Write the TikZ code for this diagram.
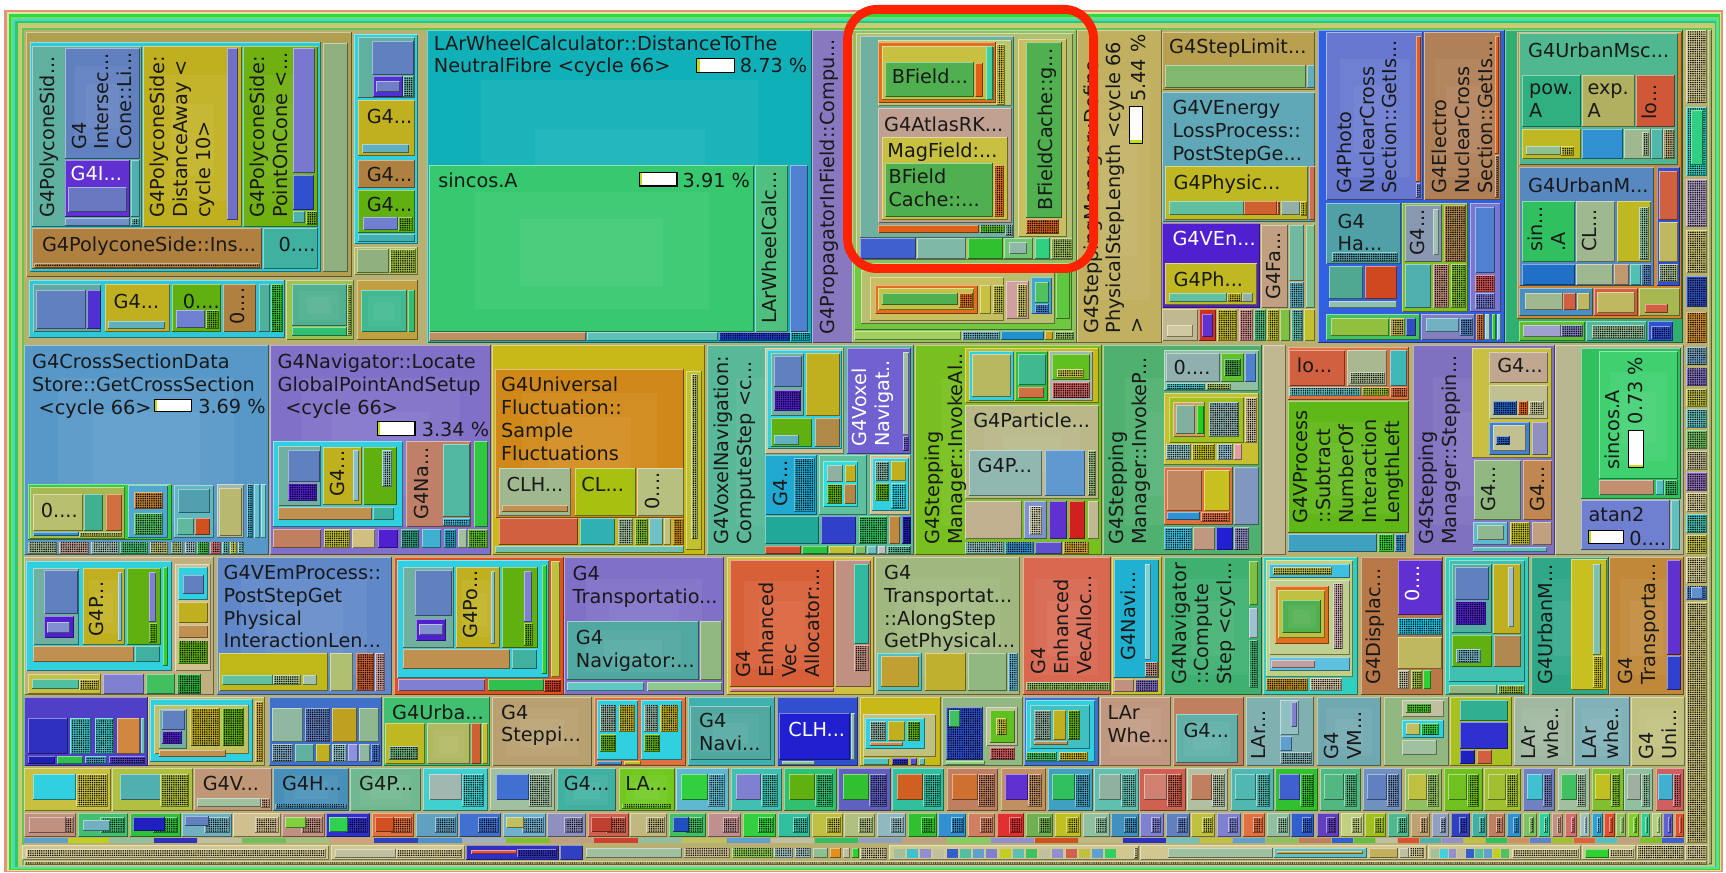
\documentclass[tikz,border=0pt]{standalone}
\usepackage{fontspec}
\setmainfont{DejaVu Sans}
\usetikzlibrary{patterns.meta}
\definecolor{ringred}{HTML}{FF2200}
\newcommand\lbfont{\fontsize{17.5}{20.8}\selectfont}
% treemap cell with bevelled border
\newcommand\tb[5]{%
  \definecolor{tbc}{HTML}{#5}%
  \fill[tbc] (#1,#2) rectangle (#3,#4);%
  \draw[tbc!55!white,line width=0.9pt] ({#1+0.45},{#4-0.45}) -- ({#1+0.45},{#2+0.45}) -- ({#3-0.45},{#2+0.45});%
  \draw[tbc!55!black,line width=0.9pt] ({#3-0.45},{#2+0.45}) -- ({#3-0.45},{#4-0.45}) -- ({#1+0.45},{#4-0.45});%
}
% cell with stepped lighter centre
\newcommand\ts[5]{%
  \tb{#1}{#2}{#3}{#4}{#5}%
  \fill[tbc!95!white] ({#1+(#3-#1)*0.14},{#2+(#4-#2)*0.16}) rectangle ({#3-(#3-#1)*0.14},{#4-(#4-#2)*0.14});%
  \fill[tbc!91!white] ({#1+(#3-#1)*0.28},{#2+(#4-#2)*0.32}) rectangle ({#3-(#3-#1)*0.28},{#4-(#4-#2)*0.28});%
}
% cell too small for detail: checkered
\newcommand\td[5]{%
  \tb{#1}{#2}{#3}{#4}{#5}%
  \fill[pattern={Dots[distance=2pt,radius=0.72pt]},pattern color=black] ({#1+1.2},{#2+1.2}) rectangle ({#3-1.2},{#4-1.2});%
}
% cost bar
\newcommand\pbar[4]{%
  \fill[white] (#1,#2) rectangle (#3,#4);%
  \fill[yellow!75!green] (#1,#2) rectangle ({#1+2.5},#4);%
  \draw[black,line width=1pt] (#1,#2) rectangle (#3,#4);%
}
\newcommand\pbarv[4]{%
  \fill[white] (#1,#2) rectangle (#3,#4);%
  \fill[yellow!75!green] (#1,{#4-2.5}) rectangle (#3,#4);%
  \draw[black,line width=1pt] (#1,#2) rectangle (#3,#4);%
}
\tikzset{
  lb/.style={inner sep=0pt,anchor=north west,align=left,font=\lbfont,text=black!90},
  lr/.style={lb,rotate=90},
  lw/.style={text=white},
  ring/.style={draw=ringred,line width=8pt,rounded corners=27pt}
}
\begin{document}
\begin{tikzpicture}[x=1pt,y=-1pt]
\useasboundingbox (0,0) rectangle (1568,793);
\fill[white] (0,0) rectangle (1568,793);
% nested outer frames
\foreach \i/\cc in {0/E8907A,1/D8E8A0,2/30D840,3/70E060,4/40D8E0,5/30C860,6/B8D070,7/D0C878,8/60C850,9/B8B070}{
  \definecolor{fc}{HTML}{\cc}
  \fill[fc] ({4+2*\i},{9+2*\i}) rectangle ({1565-1.2*\i},{792-0.8*\i});
}

% ---------------- row 1 ----------------
% polycone block
\tb{24}{29}{320}{252}{B0A050}
\tb{27}{38}{292}{247}{30C8D8}
\tb{29}{42}{129}{206}{60B0A0}
\ts{59}{44}{127}{144}{6080C0}
\tb{59}{145}{118}{197}{6030D0}
\tb{62}{170}{115}{193}{6878C0}
\tb{119}{145}{127}{197}{50B0B0}
\tb{59}{198}{118}{205}{7090C8}
\td{119}{198}{127}{205}{50B0B0}
\ts{130}{42}{220}{206}{C0B020}
\tb{206}{44}{216}{200}{7070C8}
\ts{221}{42}{289}{206}{70B010}
\tb{266}{44}{286}{157}{7878D0}
\tb{266}{159}{285}{191}{3050D0}
\tb{266}{192}{277}{203}{50B0B0}
\td{278}{192}{288}{204}{70B010}
\tb{29}{207}{238}{244}{B08040}
\td{31}{239}{236}{243}{B08040}
\tb{239}{207}{289}{244}{40B0A0}
\tb{293}{39}{316}{247}{90B080}
\node[lr] (r1) at (36,198) {G4PolyconeSid...};
\node[lr] (r2) at (65,136) {G4\\Intersec...\\Cone::Li...};
\node[lb,lw] (n17) at (64,151) {G4I...};
\node[lr] (r3) at (136,198) {G4PolyconeSide:\\DistanceAway <\\cycle 10>};
\node[lr] (r4) at (227,198) {G4PolyconeSide:\\PointOnCone <...};
\node[lb] (n18) at (38,215) {G4PolyconeSide::Ins...};
\node[lb] (n19) at (253,215) {0....};
% column right of polycone
\tb{322}{31}{380}{222}{30D0E0}
\tb{325}{34}{377}{89}{60B0A0}
\tb{338}{37}{376}{68}{6080C0}
\tb{339}{69}{366}{88}{5030D0}
\tb{342}{74}{363}{84}{7080C8}
\td{366}{69}{376}{88}{60B0A0}
\tb{325}{91}{377}{142}{C0B020}
\tb{329}{131}{372}{139}{60B0C0}
\tb{325}{145}{377}{171}{B08040}
\tb{325}{173}{377}{212}{60B010}
\tb{330}{197}{362}{209}{7080D0}
\td{362}{197}{375}{210}{60B010}
\tb{325}{213}{377}{220}{40B0B0}
\tb{322}{224}{380}{250}{B0C060}
\tb{324}{226}{353}{248}{90B080}
\td{354}{226}{378}{248}{A0C040}
\node[lb] (n20) at (333,99) {G4...};
\node[lb] (n21) at (333,152) {G4...};
\node[lb] (n22) at (333,179) {G4...};
% row below polycone
\tb{26}{254}{259}{307}{30C8D8}
\tb{30}{258}{92}{302}{60A8A0}
\tb{33}{263}{78}{299}{6080C0}
\tb{79}{263}{92}{299}{5030D0}
\tb{95}{258}{154}{302}{C0B020}
\tb{98}{292}{150}{299}{60B0C0}
\tb{156}{258}{201}{302}{60B010}
\tb{160}{282}{186}{298}{7080D0}
\td{187}{282}{199}{299}{60B010}
\tb{203}{258}{233}{302}{B08040}
\tb{235}{258}{245}{302}{50B0A0}
\td{246}{258}{257}{302}{30C030}
\tb{260}{254}{322}{309}{A0C050}
\ts{265}{258}{315}{296}{50B090}
\tb{265}{297}{315}{305}{30C070}
\td{315}{258}{320}{305}{A0C050}
\tb{324}{254}{380}{309}{C0A040}
\ts{328}{263}{370}{302}{40B890}
\tb{371}{263}{377}{302}{30C070}
\node[lb] (n23) at (103,267) {G4...};
\node[lb] (n24) at (166,267) {0....};
\node[lr] (r46) at (209,295) {0....};

% LArWheelCalculator block
\ts{388}{27}{738}{312}{10B0B8}
\ts{390}{150}{685}{302}{38C870}
\tb{686}{150}{716}{302}{50C080}
\tb{718}{150}{734}{302}{5080D0}
\tb{390}{302}{532}{310}{C09060}
\tb{533}{302}{652}{310}{60C0B8}
\td{653}{302}{718}{310}{2040D0}
\td{718}{302}{736}{310}{10B0B8}
\node[lb] (n1) at (394,32) {LArWheelCalculator::DistanceToThe\\NeutralFibre <cycle 66>};
\pbar{633}{53}{667}{66}
\node[lb] (p1) at (672,53) {8.73 \%};
\node[lb] (n2) at (398,157) {sincos.A};
\pbar{581}{157}{615}{169}
\node[lb] (p2) at (620,157) {3.91 \%};
\node[lr] (r5) at (692,294) {LArWheelCalc...};
% G4PropagatorInField
\tb{738}{27}{775}{312}{8878C0}
\node[lr] (r6) at (745,304) {G4PropagatorInField::Compu...};

% magnetic field cache block
\tb{774}{27}{978}{312}{90C060}
\tb{778}{30}{975}{236}{B0C070}
\tb{781}{33}{921}{216}{70B0A0}
\tb{798}{36}{919}{96}{B8C870}
\tb{798}{38}{905}{94}{E07020}
\tb{801}{42}{903}{91}{C8C040}
\tb{804}{56}{885}{88}{50B050}
\tb{886}{57}{893}{88}{E06018}
\tb{896}{42}{902}{91}{40D0A0}
\td{905}{40}{913}{95}{C8C040}
\tb{798}{98}{919}{203}{C0A090}
\tb{801}{124}{916}{200}{C8C040}
\tb{804}{148}{902}{197}{50B050}
\td{903}{150}{912}{197}{E07020}
\tb{798}{204}{889}{212}{E06018}
\td{890}{204}{913}{212}{60C030}
\td{913}{204}{920}{214}{70B0A0}
\tb{925}{35}{969}{215}{C8C060}
\tb{932}{38}{965}{198}{50B050}
\td{932}{199}{962}{213}{D06020}
\tb{781}{216}{832}{235}{4060D0}
\tb{833}{216}{878}{235}{80B8A8}
\tb{879}{216}{911}{235}{30C030}
\tb{912}{216}{938}{235}{70C870}
\tb{917}{220}{933}{231}{90B8A8}
\tb{940}{216}{954}{235}{30D080}
\td{955}{216}{975}{235}{A0C060}
\node[lb] (n3) at (810,62) {BField...};
\node[lb] (n4) at (803,106) {G4AtlasRK...};
\node[lb] (n5) at (806,130) {MagField:...};
\node[lb] (n6) at (807,153) {BField\\Cache::...};
\node[lr] (r7) at (943,191) {BFieldCache::g...};
% lower part of the field block
\tb{776}{239}{974}{300}{70C840}
\tb{782}{245}{958}{294}{B8C070}
\tb{790}{252}{912}{292}{C8C060}
\tb{795}{259}{888}{285}{E07020}
\tb{798}{262}{885}{282}{C8C040}
\tb{801}{266}{870}{277}{50B050}
\td{871}{266}{884}{280}{E07020}
\tb{890}{259}{900}{285}{C8C040}
\td{902}{259}{912}{285}{C0C040}
\tb{914}{255}{935}{290}{D0A0A0}
\td{924}{258}{933}{288}{C8C060}
\tb{937}{252}{956}{285}{40A8D0}
\tb{940}{256}{953}{275}{50C060}
\td{940}{276}{953}{285}{4080D0}
\tb{959}{245}{972}{290}{60C840}
\tb{776}{301}{873}{309}{A0D060}
\td{874}{301}{908}{309}{70B0C0}
\tb{909}{301}{948}{309}{2090D0}
\tb{949}{301}{957}{309}{D0A020}
\td{958}{301}{976}{309}{90C060}

% G4SteppingManager::DefinePhysicalStepLength
\ts{978}{27}{1056}{312}{C0B060}
\node[lr] (r8) at (984,303) {G4SteppingManager::Define\\PhysicalStepLength <cycle 66\\>};
\node[lr,anchor=north east] (r9) at (1027,31) {5.44 \%};
\pbarv{1026}{97}{1038}{130}

% step limiter / energy loss
\tb{1056}{29}{1195}{82}{B8A050}
\tb{1058}{59}{1186}{80}{80B870}
\tb{1187}{59}{1195}{80}{60B0C0}
\node[lb] (n7) at (1062,35) {G4StepLimit...};
\tb{1056}{84}{1195}{202}{60A8B8}
\tb{1058}{151}{1188}{200}{C0B820}
\tb{1062}{183}{1130}{195}{60C0A0}
\tb{1130}{183}{1160}{195}{D06030}
\td{1160}{183}{1163}{195}{D06030}
\tb{1164}{183}{1181}{195}{90B0A8}
\td{1181}{183}{1187}{196}{C0B820}
\tb{1189}{151}{1195}{200}{D07050}
\node[lb] (n8) at (1065,91) {G4VEnergy\\LossProcess::\\PostStepGe...};
\node[lb] (n9) at (1066,159) {G4Physic...};
\tb{1056}{203}{1145}{280}{5020D0}
\tb{1058}{239}{1142}{277}{C0B820}
\tb{1062}{266}{1115}{274}{60C0A0}
\td{1115}{266}{1128}{274}{C0B820}
\tb{1128}{266}{1138}{274}{90B0A8}
\node[lb,lw] (n10) at (1065,210) {G4VEn...};
\node[lb] (n11) at (1066,247) {G4Ph...};
\tb{1146}{204}{1170}{280}{C0A080}
\node[lr] (r10) at (1150,272) {G4Fa...};
\tb{1171}{204}{1185}{255}{70B8A0}
\tb{1186}{204}{1195}{280}{80C090}
\td{1171}{256}{1185}{280}{60B0C0}
\tb{1056}{281}{1088}{310}{C0B890}
\tb{1060}{295}{1084}{306}{D0C8A0}
\tb{1089}{281}{1105}{310}{D03020}
\tb{1092}{285}{1102}{306}{6030D0}
\td{1106}{281}{1124}{310}{C0B830}
\td{1126}{281}{1138}{310}{D09090}
\td{1139}{281}{1150}{310}{50C080}
\td{1151}{281}{1162}{310}{C0C030}
\tb{1163}{281}{1172}{310}{80C040}
\td{1173}{281}{1184}{310}{60C0B0}
\tb{1185}{281}{1195}{310}{C0C030}

% photo / electro nuclear block
\tb{1197}{27}{1367}{312}{3060E0}
\ts{1205}{29}{1293}{182}{6878D0}
\tb{1286}{33}{1291}{165}{E06020}
\td{1286}{166}{1291}{180}{6878D0}
\ts{1294}{29}{1364}{182}{B08058}
\tb{1358}{33}{1362}{140}{E06020}
\td{1358}{141}{1362}{180}{B08058}
\node[lr] (r11) at (1214,176) {G4Photo\\NuclearCross\\Section::GetIs...};
\node[lr] (r12) at (1301,176) {G4Electro\\NuclearCross\\Section::GetIs...};
\tb{1205}{184}{1273}{240}{50A0A8}
\td{1210}{229}{1270}{238}{50A0A8}
\node[lb] (n16) at (1215,194) {G4\\Ha...};
\tb{1207}{242}{1238}{272}{50A890}
\tb{1240}{242}{1269}{272}{D04820}
\tb{1207}{273}{1269}{280}{90C0B0}
\tb{1274}{184}{1334}{283}{80C020}
\tb{1276}{186}{1310}{238}{8898B0}
\tb{1302}{190}{1307}{232}{A0C0B0}
\td{1312}{186}{1332}{238}{B08850}
\tb{1276}{240}{1300}{280}{50B0B0}
\td{1302}{240}{1316}{280}{C09080}
\td{1318}{240}{1332}{280}{80C030}
\node[lr] (r13) at (1281,232) {G4...};
\tb{1335}{184}{1364}{283}{7878D0}
\tb{1340}{188}{1358}{248}{5080D0}
\td{1340}{250}{1358}{265}{D05050}
\td{1340}{266}{1358}{281}{7878D0}
\tb{1205}{285}{1290}{309}{40C060}
\tb{1209}{289}{1262}{305}{90C040}
\td{1263}{289}{1276}{305}{C0B050}
\tb{1277}{289}{1286}{305}{3050C0}
\tb{1291}{285}{1340}{309}{8080C0}
\tb{1295}{289}{1325}{302}{70B0C0}
\td{1326}{289}{1338}{305}{5080C0}
\td{1341}{285}{1348}{309}{D07030}
\tb{1349}{285}{1354}{309}{A0D0C0}
\tb{1355}{285}{1359}{309}{30D030}
\tb{1360}{285}{1364}{309}{90D0D0}

% multiple scattering block
\tb{1367}{27}{1529}{312}{30B070}
\tb{1378}{29}{1528}{290}{D08830}
\tb{1380}{30}{1524}{150}{50B890}
\tb{1383}{68}{1436}{115}{30B080}
\tb{1437}{68}{1485}{115}{B0B060}
\tb{1486}{68}{1522}{115}{D05838}
\tb{1383}{117}{1436}{144}{C0B820}
\tb{1386}{133}{1418}{141}{90C090}
\td{1418}{133}{1430}{142}{C0B820}
\tb{1437}{117}{1474}{144}{3090D0}
\tb{1475}{117}{1500}{144}{A0B890}
\td{1492}{120}{1498}{142}{A0B890}
\tb{1500}{117}{1511}{144}{50B8A8}
\td{1511}{117}{1522}{144}{C0B080}
\node[lb] (n12) at (1388,39) {G4UrbanMsc...};
\node[lb] (n13) at (1389,76) {pow.\\A};
\node[lb] (n14) at (1442,76) {exp.\\A};
\node[lr] (r14) at (1491,109) {lo...};
\tb{1380}{152}{1503}{260}{5888C0}
\tb{1383}{183}{1431}{238}{30C060}
\tb{1432}{183}{1467}{238}{A0B890}
\tb{1469}{183}{1500}{238}{C0B820}
\td{1489}{188}{1498}{236}{90C0A0}
\tb{1383}{240}{1431}{259}{2070C8}
\tb{1432}{240}{1465}{259}{A0B890}
\tb{1466}{240}{1480}{259}{C09870}
\tb{1481}{240}{1491}{259}{50C0B0}
\td{1491}{240}{1500}{259}{5888C0}
\node[lb] (n15) at (1388,161) {G4UrbanM...};
\node[lr] (r15) at (1388,229) {sin...\\.A};
\node[lr] (r16) at (1437,229) {CL...};
\tb{1505}{152}{1526}{260}{3050D0}
\tb{1507}{155}{1524}{200}{D06040}
\tb{1507}{202}{1524}{238}{C0B860}
\td{1507}{240}{1524}{256}{A0B890}
\tb{1380}{262}{1447}{287}{4890C0}
\tb{1385}{266}{1420}{282}{A0B890}
\tb{1420}{266}{1432}{282}{D06040}
\tb{1433}{266}{1444}{282}{C0B860}
\tb{1448}{262}{1488}{287}{D06040}
\tb{1451}{265}{1485}{284}{C0B860}
\tb{1489}{262}{1526}{287}{A8B850}
\tb{1494}{276}{1515}{284}{D06040}
\tb{1380}{292}{1440}{310}{60C030}
\tb{1384}{295}{1418}{306}{A0A0D0}
\td{1418}{295}{1438}{306}{8080C0}
\tb{1441}{292}{1496}{310}{50B8A0}
\td{1446}{295}{1494}{308}{90B890}
\tb{1497}{292}{1520}{310}{3050D0}
\td{1500}{296}{1518}{308}{3050D0}

% right-hand column
\foreach \ya/\yb/\cc in {27/94/D0C890,97/160/30D0C0,163/206/B0A0C0,209/248/C8C070,251/279/3050C0,283/312/D09030,315/332/70A0C0,334/351/8070C0,353/370/C0C040,372/389/60C0C0,391/408/70C060,410/427/C0B890,429/446/9070C0,448/465/D0C890,467/484/40C0B0,486/503/C0C040,506/530/D0C890,532/545/5080D0,547/766/C8C078}{
  \td{1532}{\ya}{1551}{\yb}{\cc}
}
\tb{1536}{100}{1547}{150}{30D080}
\tb{1536}{533}{1547}{544}{6090D0}
\tb{1552}{27}{1555}{785}{A0B060}

% ---------------- row 2 ----------------
\ts{22}{313}{244}{504}{5898C8}
\tb{25}{440}{156}{491}{30D040}
\tb{27}{442}{114}{490}{A8B850}
\tb{30}{449}{75}{482}{B8C070}
\tb{76}{449}{94}{482}{40B090}
\tb{96}{449}{111}{482}{D07040}
\tb{30}{483}{72}{487}{3090D0}
\td{72}{483}{111}{488}{A8B850}
\tb{116}{441}{153}{489}{50A8D0}
\td{122}{447}{148}{462}{C08030}
\td{122}{466}{148}{486}{50C060}
\tb{158}{441}{194}{489}{60B8C0}
\tb{162}{444}{191}{466}{50A0B0}
\tb{161}{471}{176}{486}{60B8A0}
\tb{177}{471}{191}{486}{D05020}
\tb{197}{440}{222}{489}{A0B8B0}
\tb{199}{443}{220}{487}{B8B870}
\td{224}{440}{230}{489}{40A8C0}
\tb{231}{440}{236}{489}{60C0D0}
\tb{237}{440}{242}{489}{70D0D0}
\foreach \xa/\xb/\cc in {25/52/A0B890,54/81/C0A090,83/108/A0C0B0,109/134/40C070,136/153/B8C070,155/166/A0C080,168/178/A0C0C0,179/190/40C040,191/201/D07070,202/208/60C0B0,209/215/C0C040,216/222/70C0C0}{
  \td{\xa}{492}{\xb}{503}{\cc}
}
\node[lb] (n26) at (29,321) {G4CrossSectionData\\Store::GetCrossSection\\\hspace*{6pt}<cycle 66>};
\pbar{140}{363}{174}{374}
\node[lb] (p3) at (180,362) {3.69 \%};
\node[lb] (n27) at (37,457) {0....};
% locate global point
\ts{245}{313}{446}{504}{8070C8}
\tb{248}{401}{366}{479}{30D0E0}
\tb{253}{405}{292}{460}{70B0A0}
\tb{262}{409}{291}{438}{6080C0}
\td{262}{439}{288}{455}{5020D0}
\tb{293}{406}{329}{459}{C0B020}
\tb{321}{409}{326}{455}{80C0D0}
\tb{330}{406}{361}{459}{60B010}
\td{347}{409}{356}{442}{90C0C0}
\tb{253}{461}{338}{472}{C09050}
\tb{339}{461}{358}{472}{40B0A0}
\tb{369}{401}{428}{479}{C08068}
\tb{402}{403}{427}{470}{50B8A0}
\td{402}{471}{427}{478}{40B0D0}
\tb{431}{401}{443}{479}{30C840}
\tb{248}{481}{292}{498}{C08060}
\td{294}{481}{318}{498}{C0C030}
\tb{320}{481}{341}{498}{D0C080}
\tb{343}{481}{362}{498}{5020D0}
\td{364}{481}{381}{498}{30A080}
\tb{383}{481}{401}{498}{40B0D0}
\td{403}{481}{414}{498}{20A0C0}
\tb{416}{481}{424}{498}{A0C0A0}
\td{425}{481}{443}{498}{60C030}
\node[lb] (n28) at (252,321) {G4Navigator::Locate\\GlobalPointAndSetup\\\hspace*{7pt}<cycle 66>};
\pbar{343}{383}{377}{396}
\node[lb] (p4) at (383,383) {3.34 \%};
\node[lr] (r18) at (300,451) {G4...};
\node[lr] (r17) at (376,472) {G4Na...};
% universal fluctuation
\tb{447}{313}{640}{504}{C8B818}
\ts{450}{335}{621}{471}{D08818}
\tb{453}{425}{519}{469}{A0B890}
\tb{456}{459}{516}{465}{C09050}
\tb{522}{425}{578}{469}{A8C010}
\tb{579}{425}{621}{469}{B8C080}
\tb{453}{471}{525}{495}{D06040}
\tb{527}{471}{559}{495}{30B0B0}
\td{561}{471}{575}{495}{A0C0A0}
\td{577}{471}{589}{495}{80C030}
\tb{590}{471}{602}{495}{70C0C8}
\tb{603}{471}{610}{495}{C0C080}
\td{611}{471}{621}{495}{C08818}
\tb{623}{337}{638}{500}{C0C030}
\td{628}{340}{634}{490}{B0C060}
\tb{450}{496}{621}{502}{70C0B0}
\node[lb] (n29) at (455,342) {G4Universal\\Fluctuation::\\Sample\\Fluctuations};
\node[lb] (n30) at (460,433) {CLH...};
\node[lb] (n31) at (528,433) {CL...};
\node[lr] (r19) at (586,463) {0....};
% voxel navigation
\ts{642}{313}{830}{504}{58B898}
\tb{695}{316}{767}{412}{D0C090}
\tb{697}{318}{765}{408}{30D0E0}
\tb{700}{321}{730}{378}{70B0A0}
\tb{703}{323}{729}{352}{6080C0}
\td{703}{354}{728}{373}{5020D0}
\tb{732}{321}{763}{378}{C0B020}
\tb{700}{380}{738}{406}{60B010}
\tb{703}{395}{726}{404}{60B0C0}
\tb{740}{380}{763}{406}{B08848}
\tb{769}{316}{828}{412}{7060D0}
\tb{820}{320}{826}{395}{A0C0A0}
\td{820}{396}{826}{410}{7060D0}
\tb{695}{413}{742}{468}{20A8D0}
\td{721}{416}{740}{465}{20A8D0}
\tb{744}{413}{788}{468}{60C0A0}
\tb{748}{419}{779}{461}{30E0E0}
\tb{751}{422}{766}{438}{90B0A0}
\tb{768}{422}{778}{438}{C0B020}
\td{751}{440}{765}{458}{60B010}
\tb{767}{440}{778}{458}{B08848}
\tb{790}{413}{828}{468}{D0C090}
\tb{792}{416}{826}{464}{30D0E0}
\td{795}{419}{808}{437}{80B0A0}
\tb{809}{419}{823}{437}{C0B020}
\td{795}{439}{808}{455}{60B010}
\td{809}{439}{823}{462}{30D0E0}
\tb{695}{469}{744}{494}{20A898}
\tb{746}{469}{778}{494}{3040C8}
\td{780}{469}{806}{494}{30C060}
\tb{808}{469}{818}{494}{C08840}
\td{819}{469}{828}{494}{2020C0}
\foreach \xa/\xb/\cc in {695/728/D05030,729/752/30C040,753/776/C0C030,777/787/80C060,788/797/70C0C0,798/805/C0C0C0}{
  \tb{\xa}{496}{\xb}{503}{\cc}
}
\td{806}{496}{828}{503}{58B898}
\node[lr] (r20) at (648,495) {G4VoxelNavigation:\\ComputeStep <c...};
\node[lr,lw] (r21) at (774,406) {G4Voxel\\Navigat..};
\node[lr] (r22) at (702,460) {G4...};
% InvokeAlongStep
\ts{831}{313}{1001}{504}{78C020}
\tb{877}{316}{998}{366}{C8B818}
\tb{880}{319}{921}{364}{30D0E0}
\tb{883}{322}{918}{361}{B8B860}
\tb{922}{319}{952}{364}{30C040}
\tb{925}{322}{950}{350}{40B890}
\tb{925}{352}{948}{362}{D07040}
\tb{953}{319}{993}{364}{A0B8B0}
\tb{956}{322}{990}{345}{60C020}
\td{960}{335}{985}{343}{C0C040}
\td{956}{347}{990}{362}{D06060}
\ts{877}{368}{998}{453}{B8B888}
\tb{880}{409}{947}{451}{90B8B0}
\tb{949}{409}{986}{451}{6098D0}
\td{988}{409}{996}{451}{A0C080}
\tb{877}{455}{928}{490}{C0B090}
\tb{930}{455}{951}{490}{8090D0}
\td{935}{460}{947}{486}{D0D0B0}
\tb{953}{455}{969}{490}{6030D0}
\tb{971}{455}{986}{490}{D02020}
\tb{988}{455}{998}{490}{C0B890}
\td{877}{492}{912}{503}{90C0C0}
\td{913}{492}{939}{503}{3090D0}
\tb{940}{492}{965}{503}{6050D0}
\td{966}{492}{989}{503}{D0A030}
\node[lr] (r23) at (840,495) {G4Stepping\\Manager::InvokeAl..};
\node[lb] (n32) at (884,375) {G4Particle...};
\node[lb] (n33) at (888,416) {G4P...};
% InvokePostStep
\ts{1002}{313}{1146}{504}{50B070}
\tb{1057}{318}{1144}{355}{90C0A0}
\tb{1059}{321}{1108}{347}{90B0B0}
\tb{1109}{321}{1130}{347}{60C030}
\td{1112}{326}{1127}{342}{40A040}
\tb{1131}{321}{1141}{347}{5080D0}
\td{1059}{348}{1095}{354}{40C0C0}
\td{1096}{348}{1118}{354}{A0C060}
\tb{1057}{357}{1144}{422}{C8C030}
\tb{1062}{361}{1130}{402}{A0C020}
\tb{1066}{365}{1095}{397}{D0A060}
\tb{1068}{368}{1086}{394}{80B0A0}
\tb{1087}{368}{1094}{394}{20D020}
\td{1098}{365}{1126}{397}{90B0B0}
\td{1131}{361}{1142}{402}{D0C0A0}
\td{1059}{403}{1082}{418}{90C0C0}
\td{1083}{403}{1104}{418}{C0C020}
\td{1106}{403}{1120}{418}{90C0D0}
\tb{1121}{403}{1128}{418}{E0A0A0}
\tb{1057}{424}{1120}{477}{E07040}
\tb{1060}{427}{1092}{464}{C08860}
\tb{1094}{427}{1117}{464}{C8C020}
\tb{1060}{465}{1090}{472}{3090D0}
\td{1091}{465}{1117}{474}{E07040}
\tb{1121}{424}{1144}{477}{8098C0}
\td{1057}{479}{1083}{500}{40C0E0}
\tb{1084}{479}{1104}{500}{C09880}
\tb{1105}{479}{1120}{500}{2020D0}
\td{1121}{479}{1135}{500}{9090C0}
\node[lr] (r24) at (1007,495) {G4Stepping\\Manager::InvokeP...};
\node[lb] (n34) at (1066,327) {0....};
% khaki separator
\tb{1147}{313}{1168}{504}{C0B890}
% interaction length
\tb{1170}{315}{1280}{363}{E07040}
\tb{1171}{318}{1222}{351}{D06040}
\tb{1224}{318}{1260}{351}{A8B890}
\td{1226}{338}{1258}{349}{A8B890}
\tb{1263}{318}{1278}{351}{40B8B8}
\td{1171}{352}{1236}{360}{60C0C0}
\td{1237}{352}{1262}{360}{A0C030}
\td{1263}{352}{1278}{361}{E07040}
\node[lb] (n35) at (1178,325) {lo...};
\ts{1170}{364}{1280}{484}{60B818}
\node[lr] (r25) at (1175,476) {G4VProcess\\::Subtract\\NumberOf\\Interaction\\LengthLeft};
\tb{1170}{485}{1251}{501}{40A0C0}
\td{1252}{485}{1266}{501}{30D030}
\td{1267}{485}{1277}{501}{4090D0}
% stepping
\ts{1284}{313}{1413}{504}{8070C0}
\tb{1337}{316}{1410}{416}{C8C040}
\tb{1353}{320}{1406}{348}{C0A890}
\tb{1353}{350}{1406}{381}{C0C090}
\td{1356}{364}{1378}{377}{2060C0}
\td{1379}{364}{1388}{377}{E06010}
\td{1389}{364}{1403}{377}{C0C090}
\tb{1353}{383}{1390}{413}{4080D0}
\tb{1356}{386}{1386}{410}{C0C090}
\td{1359}{396}{1372}{404}{2060C0}
\tb{1392}{383}{1406}{413}{9090C0}
\tb{1339}{418}{1382}{472}{90B880}
\tb{1384}{418}{1410}{472}{C08850}
\tb{1338}{474}{1370}{495}{60B8D0}
\tb{1342}{477}{1366}{491}{90B890}
\td{1372}{474}{1390}{495}{C0C020}
\tb{1392}{474}{1410}{495}{C0A080}
\tb{1338}{497}{1405}{501}{60C0C0}
\node[lr] (r26) at (1289,495) {G4Stepping\\Manager::Steppin...};
\node[lb] (n36) at (1360,325) {G4...};
\node[lr] (r27) at (1345,465) {G4...};
\node[lr] (r28) at (1390,465) {G4...};
% sincos / atan2
\tb{1413}{313}{1530}{504}{B8B890}
\tb{1436}{316}{1527}{453}{30C060}
\ts{1453}{319}{1524}{435}{40D070}
\tb{1453}{436}{1503}{450}{C09070}
\tb{1504}{436}{1512}{450}{50C0C0}
\td{1512}{436}{1524}{450}{30C060}
\node[lr] (r29) at (1458,427) {sincos.A};
\pbarv{1479}{391}{1493}{425}
\node[lr,anchor=north east] (r30) at (1479,324) {0.73 \%};
\tb{1436}{454}{1517}{500}{7080D0}
\tb{1518}{454}{1526}{500}{60C0C0}
\node[lb] (n37) at (1443,461) {atan2};
\pbar{1443}{482}{1475}{494}
\node[lb] (p5) at (1480,482) {0....};

% ---------------- row 3 ----------------
\tb{22}{506}{194}{631}{C0B080}
\tb{24}{510}{156}{610}{30D0E0}
\tb{30}{516}{72}{586}{70B0A0}
\tb{40}{518}{71}{558}{6080C0}
\tb{40}{560}{67}{580}{5020D0}
\tb{43}{565}{64}{575}{8090D0}
\ts{75}{516}{114}{586}{C0B020}
\tb{107}{520}{111}{582}{80C0D0}
\tb{115}{516}{146}{586}{60B010}
\tb{135}{520}{142}{565}{8080D0}
\td{135}{566}{143}{584}{60B010}
\tb{30}{587}{122}{601}{C09050}
\tb{123}{587}{145}{601}{40B0A0}
\tb{148}{515}{153}{605}{30D030}
\tb{159}{512}{192}{610}{D0C090}
\tb{162}{515}{189}{545}{30D0E0}
\tb{166}{522}{185}{540}{6080C0}
\tb{162}{547}{189}{566}{C0B020}
\tb{162}{568}{189}{580}{C09050}
\td{162}{582}{189}{603}{60B010}
\tb{25}{612}{92}{630}{C8C040}
\tb{29}{617}{72}{626}{50C0A0}
\td{72}{617}{90}{627}{C8C040}
\tb{94}{612}{131}{630}{8080D0}
\tb{133}{612}{159}{630}{40C060}
\td{161}{612}{183}{630}{30B040}
\node[lr] (r31) at (81,578) {G4P...};
% em process
\ts{197}{506}{356}{631}{6088C8}
\tb{199}{593}{298}{628}{C0B818}
\tb{202}{613}{248}{622}{60C0A0}
\td{248}{613}{273}{622}{A0C090}
\tb{275}{613}{288}{622}{A0C0B0}
\tb{300}{593}{321}{628}{B0C070}
\td{323}{593}{340}{628}{D06030}
\td{341}{593}{350}{628}{D0A0A0}
\node[lb] (n38) at (203,513) {G4VEmProcess::\\PostStepGet\\Physical\\InteractionLen...};
% polycone copy
\tb{358}{506}{512}{631}{E05020}
\tb{361}{509}{499}{616}{30D0E0}
\tb{366}{515}{412}{589}{70B0A0}
\tb{377}{518}{411}{560}{6080C0}
\tb{378}{562}{405}{582}{5020D0}
\tb{381}{567}{402}{577}{8090D0}
\ts{414}{515}{454}{589}{C0B020}
\tb{446}{519}{450}{585}{80C0D0}
\tb{456}{515}{489}{589}{60B010}
\tb{476}{519}{483}{565}{8080D0}
\td{476}{566}{484}{587}{60B010}
\tb{366}{590}{463}{608}{C09050}
\tb{465}{590}{488}{608}{40B0A0}
\tb{492}{513}{497}{612}{30D030}
\tb{501}{510}{509}{615}{C0C040}
\tb{362}{617}{441}{628}{8080D0}
\tb{443}{617}{494}{628}{30C050}
\td{494}{617}{510}{629}{D04020}
\node[lr] (r32) at (421,580) {G4Po...};
% transportation
\ts{512}{506}{658}{631}{8070C8}
\ts{515}{564}{635}{618}{50A8A0}
\tb{636}{564}{656}{618}{90B880}
\tb{515}{620}{585}{628}{60C8C0}
\tb{588}{620}{656}{628}{90C890}
\node[lb] (n39) at (520,514) {G4\\Transportatio...};
\node[lb] (n40) at (523,572) {G4\\Navigator:...};
% enhanced vector allocator
\tb{660}{506}{794}{631}{D0C040}
\ts{663}{509}{758}{624}{D86038}
\tb{759}{509}{791}{624}{C09080}
\tb{776}{512}{789}{585}{30B8A0}
\td{776}{586}{789}{610}{C09080}
\tb{663}{625}{758}{629}{D08080}
\node[lr] (r33) at (669,616) {G4\\Enhanced\\Vec\\Allocator:...};
% along step
\ts{795}{506}{927}{631}{A0B880}
\tb{797}{593}{838}{628}{50C0C0}
\tb{800}{596}{835}{624}{C0A030}
\tb{840}{593}{878}{628}{C0B030}
\tb{879}{593}{915}{628}{90B880}
\td{916}{593}{925}{628}{60B0D0}
\node[lb] (n41) at (803,513) {G4\\Transportat...\\::AlongStep\\GetPhysical...};
\ts{929}{506}{1009}{631}{D86850}
\td{932}{620}{1008}{628}{90C060}
\node[lr] (r34) at (937,613) {G4\\Enhanced\\VecAlloc...};
\tb{1010}{506}{1056}{631}{C8C030}
\tb{1012}{508}{1053}{616}{20B0D0}
\tb{1040}{512}{1046}{600}{80D0D0}
\td{1040}{601}{1052}{615}{C09080}
\tb{1012}{617}{1030}{629}{C09080}
\td{1031}{617}{1052}{629}{8070C0}
\node[lr] (r35) at (1018,600) {G4Navi...};
\ts{1057}{506}{1146}{631}{40B070}
\tb{1135}{510}{1143}{550}{80C040}
\tb{1135}{552}{1143}{580}{A0C0D0}
\td{1135}{581}{1143}{625}{40B070}
\node[lr] (r36) at (1064,622) {G4Navigator\\::Compute\\Step <cycl...};
\tb{1147}{506}{1234}{631}{30D0C0}
\tb{1150}{509}{1229}{615}{C0D080}
\tb{1153}{512}{1226}{525}{40C0E0}
\td{1156}{515}{1210}{522}{C0C040}
\tb{1153}{527}{1226}{595}{C0D090}
\tb{1158}{532}{1207}{585}{E07020}
\tb{1161}{536}{1204}{580}{C0C040}
\ts{1165}{545}{1200}{575}{50B050}
\td{1211}{530}{1220}{590}{D0B0B0}
\tb{1153}{597}{1226}{610}{60C0E0}
\tb{1155}{600}{1195}{607}{C0A0A0}
\td{1150}{616}{1188}{628}{C09020}
\td{1190}{616}{1219}{628}{D0C0A0}
\tb{1236}{506}{1311}{631}{B87848}
\tb{1270}{509}{1310}{559}{6030D0}
\td{1270}{561}{1310}{577}{20C0E0}
\tb{1270}{579}{1310}{608}{C0B860}
\td{1270}{609}{1280}{626}{C0C0A0}
\td{1282}{609}{1292}{626}{A0C040}
\tb{1293}{609}{1300}{626}{30D030}
\node[lr] (r37) at (1241,622) {G4Displac...};
\node[lr,lw] (r38) at (1276,547) {0....};
\tb{1313}{506}{1389}{631}{30D0C0}
\tb{1316}{509}{1385}{620}{40C0B0}
\tb{1319}{512}{1355}{575}{50B0A0}
\tb{1322}{515}{1353}{545}{6080C0}
\td{1322}{546}{1350}{568}{5020D0}
\tb{1356}{512}{1382}{576}{C0B020}
\tb{1370}{515}{1375}{570}{A0C0C0}
\tb{1319}{577}{1355}{606}{60B010}
\td{1323}{590}{1345}{602}{70B0C0}
\tb{1357}{577}{1382}{606}{B08850}
\tb{1316}{622}{1360}{630}{90B880}
\td{1361}{622}{1385}{630}{A0C040}
\ts{1391}{506}{1462}{631}{30A888}
\tb{1427}{508}{1460}{627}{C8C020}
\tb{1447}{512}{1454}{595}{80C0B0}
\td{1447}{596}{1456}{625}{C8C020}
\node[lr] (r39) at (1397,622) {G4UrbanM...};
\ts{1462}{506}{1530}{631}{C08838}
\tb{1514}{509}{1527}{595}{6030D0}
\tb{1514}{596}{1527}{627}{3040D0}
\node[lr] (r40) at (1470,622) {G4\\Transporta...};

% ---------------- row 4 ----------------
\tb{22}{633}{134}{696}{5040C8}
\tb{25}{652}{62}{685}{3030C0}
\td{64}{652}{83}{685}{40C0C0}
\td{86}{652}{104}{685}{40C0C0}
\tb{106}{652}{127}{685}{D08840}
\tb{128}{652}{132}{685}{60C0B0}
\tb{25}{687}{50}{694}{2020B0}
\tb{52}{687}{75}{694}{30C050}
\td{77}{687}{97}{694}{40A0C0}
\td{99}{687}{132}{694}{5040C8}
\tb{134}{633}{241}{696}{C0B860}
\tb{136}{635}{230}{692}{30D0E0}
\tb{140}{640}{226}{685}{C0C060}
\tb{144}{644}{170}{680}{70B0A0}
\tb{147}{645}{168}{663}{6080C0}
\td{147}{664}{165}{676}{5020D0}
\td{173}{643}{200}{678}{C0B020}
\td{202}{643}{222}{678}{60B010}
\tb{144}{681}{205}{688}{C09050}
\td{232}{637}{239}{692}{D0B040}
\tb{244}{633}{347}{696}{4070C8}
\tb{247}{643}{275}{674}{90B8A0}
\td{277}{643}{300}{674}{6080C0}
\tb{302}{643}{324}{674}{C0A020}
\tb{326}{643}{344}{674}{90B890}
\td{247}{676}{266}{692}{80A8C0}
\tb{268}{676}{285}{692}{60B0A0}
\tb{287}{676}{300}{692}{C0B020}
\td{302}{676}{315}{692}{90C0C0}
\tb{316}{676}{325}{692}{9090E0}
\tb{326}{676}{336}{692}{90B8A0}
\td{337}{676}{345}{692}{4070C8}
\tb{348}{633}{445}{696}{40C070}
\tb{350}{657}{386}{694}{C0B820}
\td{353}{678}{380}{690}{70B080}
\ts{388}{657}{427}{694}{B0B860}
\tb{428}{657}{437}{694}{D06030}
\tb{438}{657}{443}{694}{C0C030}
\node[lb] (n42) at (356,640) {G4Urba...};
\ts{447}{633}{538}{696}{B8A070}
\node[lb] (n43) at (455,640) {G4\\Steppi...};
\tb{540}{633}{623}{696}{E07040}
\tb{542}{636}{580}{690}{30D0E0}
\td{545}{640}{560}{665}{90B0A0}
\td{562}{640}{577}{665}{C0B020}
\td{545}{667}{560}{683}{60B010}
\tb{582}{636}{620}{690}{30D0E0}
\td{585}{640}{598}{665}{90B0A0}
\td{600}{640}{616}{665}{C0B020}
\td{585}{667}{600}{683}{60B010}
\tb{542}{691}{565}{695}{3090D0}
\tb{567}{691}{582}{695}{C0C020}
\tb{625}{633}{704}{696}{40B0B0}
\ts{627}{641}{700}{690}{50A8A0}
\node[lb] (n44) at (635,648) {G4\\Navi...};
\tb{706}{633}{779}{696}{3050D0}
\tb{708}{648}{772}{690}{2020D0}
\tb{773}{648}{777}{690}{90C0A0}
\tb{710}{691}{740}{695}{90C090}
\node[lb,lw] (n45) at (716,656) {CLH...};
\tb{781}{633}{855}{696}{C8B818}
\tb{784}{649}{850}{688}{C0C080}
\tb{786}{652}{840}{680}{30D0E0}
\td{790}{655}{805}{673}{90B0A0}
\tb{807}{655}{822}{673}{C0B020}
\td{824}{655}{836}{673}{60B010}
\tb{790}{674}{820}{678}{C09050}
\tb{784}{689}{808}{695}{50C0C0}
\td{810}{689}{825}{695}{3030C0}
\tb{827}{689}{833}{695}{5050D0}
\tb{835}{689}{840}{695}{60C0C0}
\tb{856}{633}{929}{696}{90B880}
\td{859}{642}{893}{690}{3050D0}
\tb{862}{645}{872}{660}{40C060}
\tb{896}{642}{925}{678}{C0C0A0}
\tb{899}{645}{922}{675}{60C020}
\td{905}{652}{915}{668}{C0C030}
\td{899}{679}{922}{690}{D06060}
\tb{859}{691}{895}{695}{90D080}
\tb{930}{633}{998}{696}{4070D0}
\tb{932}{636}{995}{692}{30D0E0}
\tb{936}{640}{990}{680}{40C0C0}
\td{939}{645}{955}{672}{90B0A0}
\tb{957}{645}{968}{672}{C0B020}
\td{970}{645}{981}{672}{60B010}
\tb{939}{673}{970}{677}{C09050}
\td{932}{683}{960}{691}{40C060}
\td{962}{683}{988}{691}{C0B020}
\ts{999}{633}{1064}{696}{C09880}
\node[lb] (n46) at (1006,641) {LAr\\Whe...};
\tb{1066}{633}{1130}{696}{C08060}
\ts{1068}{649}{1125}{693}{60B0A8}
\node[lb] (n47) at (1075,657) {G4...};
\tb{1132}{633}{1194}{696}{80B0B0}
\tb{1163}{636}{1180}{668}{90C0C0}
\tb{1173}{638}{1178}{660}{8080D0}
\tb{1163}{669}{1174}{682}{60A0D0}
\td{1163}{683}{1192}{694}{80B0B0}
\node[lr] (r41) at (1137,690) {LAr...};
\ts{1196}{633}{1255}{696}{70A8B0}
\node[lr] (r42) at (1203,690) {G4\\VM...};
\tb{1257}{633}{1316}{696}{90B880}
\tb{1274}{636}{1312}{651}{C0C0A0}
\td{1277}{639}{1300}{648}{50C030}
\tb{1274}{654}{1312}{670}{30D0E0}
\tb{1277}{657}{1290}{668}{C0C060}
\td{1291}{657}{1307}{668}{30D040}
\tb{1274}{672}{1305}{686}{A0C0A0}
\tb{1317}{633}{1374}{696}{A8C020}
\tb{1326}{636}{1370}{655}{30B090}
\tb{1326}{656}{1370}{680}{3030D0}
\tb{1326}{681}{1340}{694}{2020C0}
\tb{1342}{681}{1355}{694}{D06040}
\ts{1375}{633}{1429}{696}{A0B8A0}
\node[lr] (r43) at (1382,690) {LAr\\whe..};
\ts{1430}{633}{1481}{696}{80B0B8}
\node[lr] (r44) at (1437,690) {LAr\\whe..};
\ts{1482}{633}{1531}{696}{C0C080}
\node[lr] (r45) at (1489,690) {G4\\Uni...};

% ---------------- row 5 ----------------
\foreach \xa/\xb/\cc/\ci in {22/101/C8C040/30D0E0,102/175/B0C040/50B0B0,384/443/40D0D0/A0B8B0,445/504/A0C0A0/4070D0,614/662/60B8D0/30D040,664/710/40C0B0/8080D0,712/760/30C070/60B010,761/809/6060C0/30C030,810/858/30C0A0/D06020,860/907/C08060/D07030,909/950/C09060/6030D0,952/993/40A0C0/30C060,994/1035/60C0B0/90B0A0,1035/1077/D06050/D08070,1078/1116/B0C0A0/C08060,1118/1157/50B8B0/50B8B0,1158/1197/30C030/4060D0,1199/1236/50B880/50B880,1238/1274/7090C0/6080C0,1276/1310/90C060/C0C040,1312/1347/70C020/70C020,1348/1382/A0C030/A0C030,1384/1413/7080C0/40C0D0,1415/1444/A0C0A0/40C060,1446/1475/80C030/C0C020,1475/1502/90C0A0/A0B0A0,1504/1530/D06060/40B0D0}{
  \tb{\xa}{698}{\xb}{737}{\cc}
  \pgfmathsetmacro\xm{\xa+(\xb-\xa)*0.1}
  \pgfmathsetmacro\xn{\xa+(\xb-\xa)*0.6}
  \tb{\xm}{703}{\xn}{727}{\ci}
  \td{\xn}{703}{\xb-3}{733}{\cc}
}
\tb{176}{698}{247}{737}{C09878}
\tb{179}{725}{237}{733}{A0C0A0}
\td{237}{725}{245}{734}{C09878}
\ts{248}{698}{317}{737}{4890B8}
\td{250}{730}{315}{735}{4890B8}
\ts{318}{698}{382}{737}{70B890}
\ts{506}{698}{560}{737}{40B0A0}
\ts{562}{698}{613}{737}{70C820}
\td{565}{730}{610}{735}{70C820}
\node[lb] (n48) at (184,705) {G4V...};
\node[lb] (n49) at (256,705) {G4H...};
\node[lb] (n50) at (326,705) {G4P...};
\node[lb] (n51) at (512,705) {G4...};
\node[lb] (n52) at (568,705) {LA...};

% ---------------- row 6 ----------------
\foreach \xa/\xb/\cc in {22/69/C09080,71/116/40C070,118/164/30C040,165/211/70B0C0,212/255/D0C090,256/295/C09080,296/336/3030D0,338/376/E07040,378/416/60A0C0,417/455/4070D0,457/496/70B0D0,497/532/9090C0,534/571/D06050,572/606/C0B880,608/641/40C060,643/673/C09090,675/705/30D040,707/736/30C0A0,738/766/C0C040,767/795/B0C080,797/823/90B8C0,825/851/30C030,852/878/3090D0,879/904/D08060,906/930/E03030,932/957/70B050,958/982/C0C020,984/1008/90C0A0,1009/1035/4090C0,1036/1057/8080D0,1059/1081/6080C0,1082/1104/C0C040,1106/1127/8080D0,1129/1149/E07040,1151/1172/90C0A0,1173/1194/3060D0,1196/1216/6040C0,1218/1239/C0D080,1240/1259/A0C020,1261/1280/50B890,1282/1299/C0A070,1301/1316/90A0C0,1318/1335/3040C0,1337/1351/40B0A0,1352/1367/C08060,1369/1382/3090D0,1384/1396/80C060,1398/1408/30D0A0,1410/1420/C09080,1422/1433/D07070,1435/1444/A0C0C0,1446/1456/30A0D0,1457/1467/E05030,1468/1477/90C060,1479/1489/80D030,1491/1499/30D090,1501/1510/B0D080,1511/1520/6060D0,1522/1530/E05030}{
  \tb{\xa}{739}{\xb}{760}{\cc}
  \pgfmathsetmacro\xm{\xa+(\xb-\xa)*0.45}
  \td{\xm}{742}{\xb-2}{757}{\cc}
}
\tb{26}{742}{60}{757}{C09080}
\tb{75}{745}{100}{755}{70B0C0}
\tb{121}{742}{150}{755}{2020C0}
\tb{168}{741}{190}{750}{6080C0}
\tb{259}{742}{278}{752}{80D040}
\tb{299}{742}{316}{756}{30D050}
\tb{341}{742}{358}{756}{D05020}
\tb{460}{742}{476}{752}{C0C060}
\tb{537}{742}{556}{756}{C04030}
\tb{611}{742}{626}{756}{2050C0}

% ---------------- row 7: thin strip ----------------
\foreach \xa/\xb/\cc in {22/62/60A0D0,62/100/C0D020,100/140/90C0A0,140/180/3030C0,180/220/C0C0A0,220/260/70C060,260/300/A0C080,300/340/D0A080,340/380/3040C0,380/420/5090D0,420/460/A0B0C0,460/500/80C030,500/540/C0A080,540/580/D04030,580/620/90C0A0,620/660/C0C060,660/700/60A0D0,700/740/C0C0A0,740/780/30C060,780/820/90A0C0,820/860/C0A080,860/900/80D060,900/940/9090D0,940/980/D05020,980/1020/C0B880,1020/1060/3030C0,1060/1090/70C0C0,1090/1120/C0C040,1120/1150/60A0D0,1150/1180/90C060,1180/1210/C08060,1210/1230/3060D0,1230/1250/60C040,1250/1270/C0C0A0,1270/1290/E05030,1290/1310/50B0B0,1310/1330/9090D0,1330/1350/C0C040,1350/1370/30C060,1370/1390/D09060,1390/1410/6080D0,1410/1430/A0C030,1430/1450/E06040,1450/1470/50C0C0,1470/1490/C0A080,1490/1510/80C030,1510/1530/4060D0}{
  \definecolor{sc}{HTML}{\cc}
  \fill[sc] (\xa,761) rectangle (\xb-0.6,766);
}

% ---------------- row 8: bottom strips ----------------
\tb{20}{768}{299}{781}{D0C890}
\td{24}{771}{296}{779}{D0C890}
\tb{301}{768}{422}{781}{D0C890}
\tb{304}{771}{360}{779}{C0C0A0}
\td{360}{771}{420}{779}{D0C890}
\tb{423}{768}{508}{781}{3030C0}
\tb{428}{772}{470}{776}{E05050}
\td{470}{771}{506}{779}{3030C0}
\tb{509}{768}{530}{781}{3040C0}
\tb{532}{770}{620}{779}{A0C0A0}
\td{621}{770}{663}{779}{D0C090}
\td{665}{770}{702}{779}{90D050}
\td{703}{770}{720}{779}{A0C0C0}
\td{722}{770}{737}{779}{A0C0C0}
\tb{739}{770}{752}{779}{90C090}
\tb{754}{770}{764}{779}{E09020}
\tb{766}{770}{772}{779}{C0C0A0}
\tb{774}{770}{780}{779}{30D030}
\td{781}{770}{806}{781}{D0C890}
\tb{808}{768}{1035}{781}{D0C890}
\foreach \i/\cc in {0/A0C0A0,1/40C0D0,2/9090D0,3/C0C0A0,4/3060D0,5/50C0A0,6/60A0D0,7/8080D0,8/C0D020,9/60C0B0,10/40C060,11/C0C0A0,12/9090D0,13/D06050,14/C0C040,15/60A0D0,16/30D060,17/D0C890}{
  \definecolor{sc}{HTML}{\cc}
  \fill[sc] ({812+\i*12},771) rectangle ({822+\i*12},779);
}
\td{1030}{770}{1034}{780}{D0C890}
\tb{1036}{768}{1296}{781}{D0C890}
\tb{1061}{770}{1156}{779}{A0C0A0}
\tb{1157}{770}{1242}{779}{60C0C0}
\tb{1160}{773}{1238}{776}{D0A040}
\tb{1244}{770}{1270}{779}{C0B060}
\tb{1271}{770}{1280}{779}{C0C0A0}
\td{1280}{770}{1294}{779}{D0C890}
\tb{1297}{768}{1436}{781}{D0C890}
\foreach \i/\cc in {0/A0C0A0,1/40D0E0,2/9090D0,3/C0C0A0,4/3060D0,5/50C0A0,6/60A0D0,7/C0D020,8/50C060}{
  \definecolor{sc}{HTML}{\cc}
  \fill[sc] ({1300+\i*8},771) rectangle ({1307+\i*8},779);
}
\td{1374}{771}{1434}{779}{D0C890}
\tb{1437}{768}{1486}{781}{D0C890}
\tb{1440}{771}{1462}{779}{30D030}
\td{1462}{771}{1484}{779}{D0C890}
\td{1487}{768}{1530}{781}{D0C890}
\td{1531}{768}{1551}{781}{D0C890}
\td{22}{782}{1551}{786}{B8B070}

% highlight ring
\draw[ring] (770,8.5) rectangle (993.5,244);
\end{tikzpicture}
\end{document}
